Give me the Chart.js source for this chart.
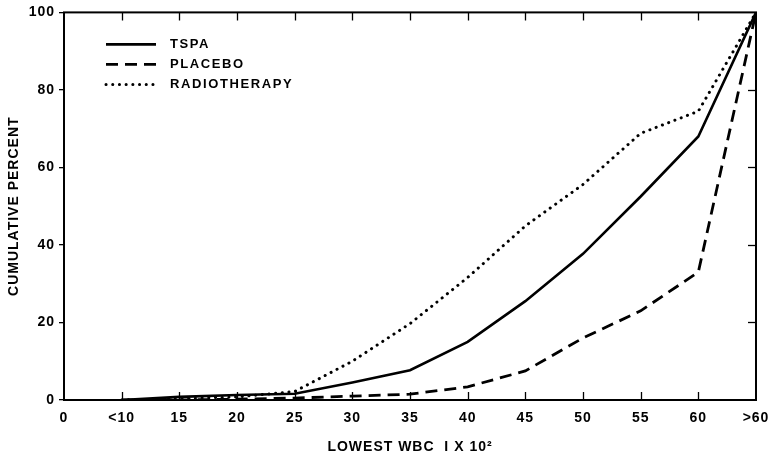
<!DOCTYPE html>
<html>
<head>
<meta charset="utf-8">
<script src="https://cdn.jsdelivr.net/npm/chart.js@4/dist/chart.umd.min.js"></script>
<style>
html,body{margin:0;padding:0;background:#fff;}
#wrap{width:768px;height:456px;}
</style>
</head>
<body>
<div id="wrap"><canvas id="c" width="768" height="456"></canvas></div>
<script>
const categories = ['0','<10','15','20','25','30','35','40','45','50','55','60','>60'];
const tspa     = [null, 0, 0.8, 1.3, 1.6, 4.5, 7.7, 15, 25.5, 37.7, 52.5, 68, 100];
const placebo  = [null, 0, 0, 0.2, 0.5, 1.0, 1.5, 3.4, 7.5, 16, 23, 33, 100];
const radio    = [null, 0, 0.3, 0.8, 2.2, 10, 19.7, 31.6, 44.9, 55.6, 68.8, 74.5, 100];
const yTicks   = [0, 20, 40, 60, 80, 100];
const seriesNames = ['TSPA', 'PLACEBO', 'RADIOTHERAPY'];

const FONT = '"Liberation Sans", Arial, sans-serif';

const framePlugin = {
  id: 'frame',
  beforeDraw(chart) { chart.ctx.letterSpacing = '1px'; },
  afterDraw(chart) {
    const {ctx, chartArea: a, scales} = chart;
    ctx.save();
    ctx.strokeStyle = '#000';
    ctx.lineWidth = 2;
    ctx.strokeRect(a.left, a.top, a.right - a.left, a.bottom - a.top);
    ctx.lineWidth = 1.3;
    const xs = scales.x;
    for (let i = 1; i < categories.length - 1; i++) {
      const px = Math.round(xs.getPixelForTick(i)) + 0.5;
      ctx.beginPath();
      ctx.moveTo(px, a.bottom); ctx.lineTo(px, a.bottom - 8);
      ctx.moveTo(px, a.top); ctx.lineTo(px, a.top + 8);
      ctx.stroke();
    }
    const ys = scales.y;
    yTicks.forEach(v => {
      if (v === 0 || v === 100) return;
      const py = Math.round(ys.getPixelForValue(v)) + 0.5;
      ctx.beginPath();
      ctx.moveTo(a.right, py); ctx.lineTo(a.right - 8, py);
      ctx.stroke();
    });
    // legend inside the plot
    const lx = a.left + 42, tx = a.left + 106;
    chart.data.datasets.forEach((ds, i) => {
      const py = a.top + 32 + i * 20;
      ctx.save();
      ctx.strokeStyle = '#000';
      ctx.lineWidth = ds.borderWidth;
      ctx.lineCap = ds.borderCapStyle || 'butt';
      ctx.setLineDash(ds.borderDash || []);
      ctx.beginPath();
      ctx.moveTo(lx, py); ctx.lineTo(lx + 50, py);
      ctx.stroke();
      ctx.restore();
      ctx.fillStyle = '#000';
      ctx.font = 'bold 13px ' + FONT;
      ctx.letterSpacing = '1.6px';
      ctx.textBaseline = 'middle';
      ctx.fillText(ds.label, tx, py);
    });
    ctx.restore();
  }
};

new Chart(document.getElementById('c'), {
  type: 'line',
  data: {
    labels: categories,
    datasets: [
      {label: seriesNames[0], data: tspa, borderColor: '#000', borderWidth: 2.6, pointRadius: 0, tension: 0, fill: false},
      {label: seriesNames[1], data: placebo, borderColor: '#000', borderWidth: 2.8, borderDash: [12, 7], pointRadius: 0, tension: 0, fill: false},
      {label: seriesNames[2], data: radio, borderColor: '#000', borderWidth: 3, borderDash: [0.1, 6.6], borderCapStyle: 'round', pointRadius: 0, tension: 0, fill: false}
    ]
  },
  options: {
    responsive: false,
    animation: false,
    layout: {padding: {top: 2, right: 0, bottom: 0, left: 0}},
    plugins: {legend: {display: false}, tooltip: {enabled: false}},
    scales: {
      x: {
        type: 'category',
        offset: false,
        grid: {display: false, drawTicks: false},
        border: {display: false},
        ticks: {color: '#000', font: {family: FONT, size: 14, weight: 'bold'}, padding: 10, maxRotation: 0, autoSkip: false},
        title: {display: true, text: 'LOWEST WBC  I X 10²', color: '#000', font: {family: FONT, size: 14, weight: 'bold'}, padding: {top: 6, bottom: 0}},
        afterFit(s) { s.height = 56; s.paddingRight = 12; }
      },
      y: {
        min: 0, max: 100,
        afterBuildTicks(s) { s.ticks = yTicks.map(v => ({value: v})); },
        grid: {display: true, drawOnChartArea: false, tickLength: 5, color: '#000', lineWidth: 1.3},
        border: {display: false},
        ticks: {color: '#000', font: {family: FONT, size: 14, weight: 'bold'}, padding: 4},
        title: {display: true, text: 'CUMULATIVE PERCENT', color: '#000', font: {family: FONT, size: 14, weight: 'bold'}, padding: {top: 6, bottom: 4}},
        afterFit(s) { s.width = 64; }
      }
    }
  },
  plugins: [framePlugin]
});
</script>
</body>
</html>
